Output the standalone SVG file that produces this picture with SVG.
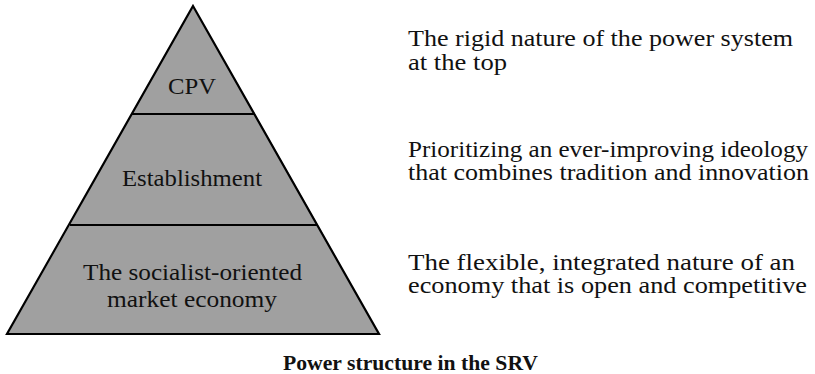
<svg xmlns="http://www.w3.org/2000/svg" width="815" height="374" viewBox="0 0 815 374">
  <style>
    .tier { fill: #a0a0a0; stroke: none; }
    .edge { fill: none; stroke: #000; stroke-width: 2.2; stroke-linejoin: miter; }
    .lbl { font-family: "Liberation Serif", "Times New Roman", serif; font-size: 24px; fill: #111; }
    .cap { font-family: "Liberation Serif", "Times New Roman", serif; font-size: 21px; font-weight: bold; fill: #111; }
  </style>

  <!-- pyramid tiers -->
  <g id="tier-cpv">
    <polygon class="tier" points="193,6 255,114 131,114"/>
    <text class="lbl" x="168" y="94" textLength="48" lengthAdjust="spacingAndGlyphs">CPV</text>
  </g>
  <g id="tier-establishment">
    <polygon class="tier" points="131,114 255,114 318,225 70,225"/>
    <text class="lbl" x="122" y="186" textLength="140" lengthAdjust="spacingAndGlyphs">Establishment</text>
  </g>
  <g id="tier-economy">
    <polygon class="tier" points="70,225 318,225 379,334 8,334"/>
    <text class="lbl" x="83" y="280" textLength="219" lengthAdjust="spacingAndGlyphs">The socialist-oriented</text>
    <text class="lbl" x="107" y="307" textLength="170" lengthAdjust="spacingAndGlyphs">market economy</text>
  </g>

  <!-- outline and dividers -->
  <g id="connectors">
    <polygon class="edge" points="193,6 379,334 7,334"/>
    <line class="edge" x1="131" y1="114" x2="255" y2="114"/>
    <line class="edge" x1="70" y1="225" x2="318" y2="225"/>
  </g>

  <!-- descriptions -->
  <g id="desc-top">
    <text class="lbl" x="408" y="46" textLength="385" lengthAdjust="spacingAndGlyphs">The rigid nature of the power  system</text>
    <text class="lbl" x="408" y="70" textLength="99" lengthAdjust="spacingAndGlyphs">at the top</text>
  </g>
  <g id="desc-middle">
    <text class="lbl" x="408" y="157" textLength="400" lengthAdjust="spacingAndGlyphs">Prioritizing an ever-improving ideology</text>
    <text class="lbl" x="408" y="180" textLength="401" lengthAdjust="spacingAndGlyphs">that combines tradition and innovation</text>
  </g>
  <g id="desc-bottom">
    <text class="lbl" x="408" y="270" textLength="387" lengthAdjust="spacingAndGlyphs">The flexible,  integrated nature of an</text>
    <text class="lbl" x="408" y="293" textLength="399" lengthAdjust="spacingAndGlyphs">economy that is open and competitive</text>
  </g>

  <g id="caption">
    <text class="cap" x="283" y="370" textLength="255" lengthAdjust="spacingAndGlyphs">Power structure in the SRV</text>
  </g>
</svg>
